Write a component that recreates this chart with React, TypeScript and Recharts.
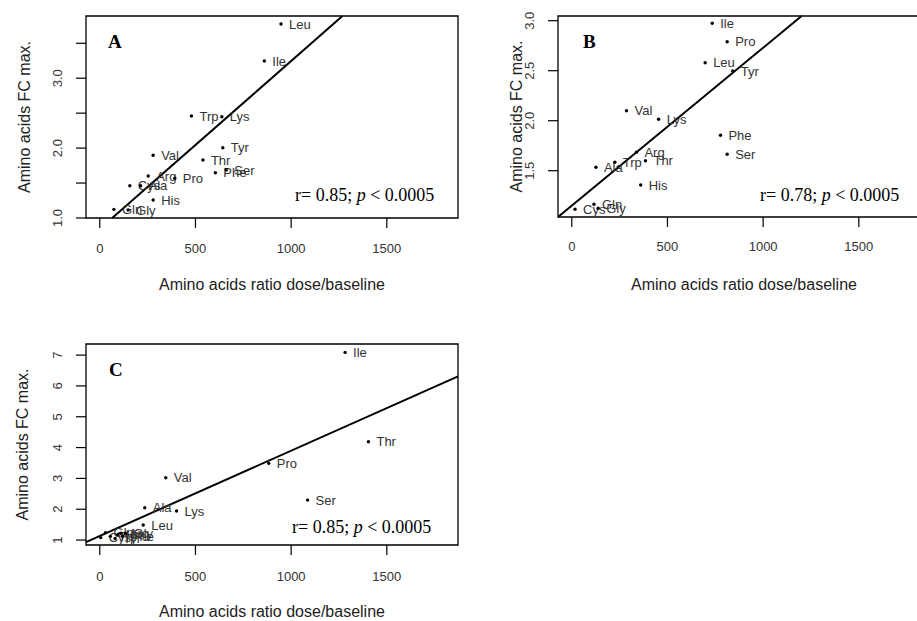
import { ScatterChart, Scatter, XAxis, YAxis, ReferenceLine, ReferenceArea } from 'recharts';

// panel A
const namesA = ['Leu', 'Ile', 'Trp', 'Lys', 'Tyr', 'Thr', 'Val', 'Phe', 'Ser', 'Arg', 'Pro', 'Cys', 'Ala', 'His', 'Gln', 'Gly'];
const ratioA = [947, 860, 479, 638, 643, 539, 279, 604, 661, 253, 392, 157, 213, 279, 74, 148];
const fcA = [3.775, 3.246, 2.459, 2.449, 2.006, 1.83, 1.897, 1.648, 1.687, 1.601, 1.568, 1.462, 1.462, 1.258, 1.124, 1.114];
const fitA = [0.844, 0.002402]; // intercept, slope

// panel B
const namesB = ['Ile', 'Pro', 'Leu', 'Tyr', 'Val', 'Lys', 'Phe', 'Ser', 'Arg', 'Thr', 'Trp', 'Ala', 'His', 'Gln', 'Cys', 'Gly'];
const ratioB = [734, 812, 697, 841, 286, 454, 777, 812, 338, 385, 225, 126, 360, 116, 17, 138];
const fcB = [2.974, 2.79, 2.58, 2.497, 2.1, 2.014, 1.854, 1.664, 1.684, 1.6, 1.584, 1.534, 1.357, 1.164, 1.115, 1.124];
const fitB = [1.1505, 0.001579];

// panel C
const namesC = ['Ile', 'Thr', 'Pro', 'Val', 'Ser', 'Ala', 'Lys', 'Leu', 'Cys', 'Gln', 'Trp', 'Tyr', 'His', 'Arg', 'Phe', 'Gly'];
const ratioC = [1282, 1404, 883, 345, 1086, 235, 401, 227, 5, 30, 55, 80, 95, 110, 120, 135];
const fcC = [7.088, 4.188, 3.488, 3.021, 2.297, 2.048, 1.941, 1.487, 1.08, 1.24, 1.12, 1.05, 1.18, 1.22, 1.12, 1.22];
const fitC = [1.133, 0.002766];

const xTicks = [0, 500, 1000, 1500];
const yTicksA = [1, 1.5, 2, 2.5, 3, 3.5];
const yTicksB = [1.5, 2, 2.5, 3];
const yTicksC = [1, 2, 3, 4, 5, 6, 7];

const SANS = '"Liberation Sans", Arial, Helvetica, sans-serif';
const SERIF = '"Liberation Serif", "Times New Roman", serif';

const toRows = (names: string[], xs: number[], ys: number[]) =>
  names.map((name, i) => ({ name, x: xs[i], y: ys[i] }));

// regression line clipped to the plot box
const fitSegment = (fit: number[], xd: number[], yd: number[]) => {
  const [a, b] = fit;
  let x1 = xd[0];
  let y1 = a + b * x1;
  if (y1 < yd[0]) { x1 = (yd[0] - a) / b; y1 = yd[0]; }
  let x2 = xd[1];
  let y2 = a + b * x2;
  if (y2 > yd[1]) { x2 = (yd[1] - a) / b; y2 = yd[1]; }
  return [{ x: x1, y: y1 }, { x: x2, y: y2 }];
};

const LabeledDot = (props: any) => {
  const { cx, cy, payload } = props;
  return (
    <g>
      <circle cx={cx} cy={cy} r={1.7} fill="#000" />
      <text x={cx + 8} y={cy} dy="0.35em" fontSize={13} fontFamily={SANS} fill="#333">
        {payload.name}
      </text>
    </g>
  );
};

const XTick = ({ x, y, payload, off }: any) => (
  <text x={x} y={y + off} textAnchor="middle" fontSize={13} fontFamily={SANS} fill="#333">
    {payload.value}
  </text>
);

const YTick = ({ x, y, payload, fmt }: any) => (
  <text x={x - 12} y={y} transform={`rotate(-90, ${x - 12}, ${y})`} textAnchor="middle" fontSize={13} fontFamily={SANS} fill="#333">
    {fmt(payload.value)}
  </text>
);

type PanelProps = {
  left: number;
  top: number;
  letter: string;
  rows: { name: string; x: number; y: number }[];
  fit: number[];
  yDomain: number[];
  yTicks: number[];
  yFmt: (v: number) => string;
  bottom: number;
  xTickOff: number;
  yTitleX: number;
  xTitleY: number;
  letterX: number;
  statX: number;
  statY: number;
  stat: string;
};

const xDomain = [-72, 1872];

const Panel = (p: PanelProps) => {
  const seg = fitSegment(p.fit, xDomain, p.yDomain);
  const plotTop = 16;
  const plotBottom = 300 - p.bottom - 70;
  return (
    <div style={{ position: 'absolute', left: p.left, top: p.top }}>
      <ScatterChart width={470} height={300} margin={{ top: plotTop, right: 12, bottom: p.bottom, left: 16 }}>
        <XAxis
          type="number"
          dataKey="x"
          domain={xDomain}
          ticks={xTicks}
          interval={0}
          allowDataOverflow
          height={70}
          tickSize={10}
          tickMargin={2}
          axisLine={false}
          tickLine={{ stroke: '#000', strokeWidth: 1.2 }}
          tick={<XTick off={p.xTickOff} />}
        />
        <YAxis
          type="number"
          dataKey="y"
          domain={p.yDomain}
          ticks={p.yTicks}
          interval={0}
          allowDataOverflow
          width={70}
          tickSize={10}
          tickMargin={2}
          axisLine={false}
          tickLine={{ stroke: '#000', strokeWidth: 1.2 }}
          tick={<YTick fmt={p.yFmt} />}
        />
        <Scatter data={p.rows} shape={<LabeledDot />} isAnimationActive={false} />
        <ReferenceLine segment={seg} stroke="#000" strokeWidth={2} ifOverflow="visible" />
        <ReferenceArea
          x1={xDomain[0]}
          x2={xDomain[1]}
          y1={p.yDomain[0]}
          y2={p.yDomain[1]}
          fill="none"
          stroke="#000"
          strokeWidth={1.3}
          ifOverflow="visible"
        />
        <text
          x={p.yTitleX}
          y={(plotTop + plotBottom) / 2}
          transform={`rotate(-90, ${p.yTitleX}, ${(plotTop + plotBottom) / 2})`}
          textAnchor="middle"
          fontSize={16}
          fontFamily={SANS}
          fill="#222"
        >
          Amino acids FC max.
        </text>
        <text x={86 + 186} y={p.xTitleY} textAnchor="middle" fontSize={16} fontFamily={SANS} fill="#222">
          Amino acids ratio dose/baseline
        </text>
        <text x={p.letterX} y={48} fontSize={19} fontWeight="bold" fontFamily={SERIF} fill="#000">
          {p.letter}
        </text>
        <text x={p.statX} y={p.statY} fontSize={18} fontFamily={SERIF} fill="#000">
          {p.stat} <tspan fontStyle="italic">p</tspan> {'< 0.0005'}
        </text>
      </ScatterChart>
    </div>
  );
};

const fmtA = (v: number) => (Number.isInteger(v) ? v.toFixed(1) : '');
const fmtB = (v: number) => v.toFixed(1);
const fmtC = (v: number) => String(v);

export default function App() {
  return (
    <div style={{ position: 'fixed', left: 0, top: 0, width: 917, height: 621, overflow: 'hidden', background: '#fff' }}>
      <Panel
        left={0}
        top={0}
        letter="A"
        rows={toRows(namesA, ratioA, fcA)}
        fit={fitA}
        yDomain={[1.0, 3.89]}
        yTicks={yTicksA}
        yFmt={fmtA}
        bottom={12}
        xTickOff={23}
        yTitleX={30}
        xTitleY={290}
        letterX={108}
        statX={295}
        statY={201}
        stat="r= 0.85;"
      />
      <Panel
        left={472}
        top={0}
        letter="B"
        rows={toRows(namesB, ratioB, fcB)}
        fit={fitB}
        yDomain={[1.037, 3.047]}
        yTicks={yTicksB}
        yFmt={fmtB}
        bottom={13}
        xTickOff={22}
        yTitleX={50}
        xTitleY={290}
        letterX={111}
        statX={288}
        statY={201}
        stat="r= 0.78;"
      />
      <Panel
        left={0}
        top={328}
        letter="C"
        rows={toRows(namesC, ratioC, fcC)}
        fit={fitC}
        yDomain={[0.84, 7.36]}
        yTicks={yTicksC}
        yFmt={fmtC}
        bottom={13}
        xTickOff={24}
        yTitleX={28}
        xTitleY={289}
        letterX={109}
        statX={292}
        statY={205}
        stat="r= 0.85;"
      />
    </div>
  );
}
